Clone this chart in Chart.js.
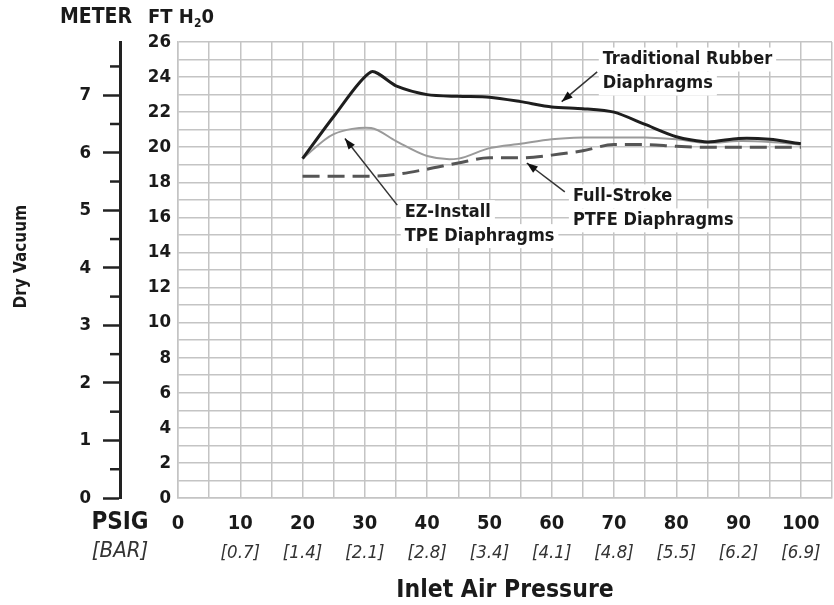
<!DOCTYPE html>
<html><head><meta charset="utf-8">
<script src="https://cdn.jsdelivr.net/npm/chart.js@4.4.1/dist/chart.umd.min.js"></script>
<style>html,body{margin:0;padding:0;background:#fff;}#wrap{width:834px;height:605px;}</style>
</head><body><div id="wrap"><canvas id="c" width="834" height="605"></canvas></div>
<script>
const FONT = "'Liberation Sans Narrow','DejaVu Sans Condensed','Arial Narrow',sans-serif";

// ---- data ----
const psig   = [20, 25, 31, 35, 40, 45, 50, 55, 60, 65, 70, 75, 80, 85, 90, 95, 100];
const rubber = [19.35, 21.75, 24.3, 23.5, 23.0, 22.9, 22.85, 22.6, 22.3, 22.2, 22.0, 21.3, 20.6, 20.3, 20.5, 20.45, 20.2];
const tpe    = [19.35, 20.75, 21.1, 20.35, 19.5, 19.35, 19.95, 20.2, 20.45, 20.55, 20.55, 20.55, 20.45, 20.25, 20.35, 20.3, 20.15];
const ptfe   = [18.35, 18.35, 18.35, 18.45, 18.75, 19.1, 19.4, 19.4, 19.55, 19.8, 20.15, 20.15, 20.05, 20.0, 20.0, 20.0, 20.0];
const psigTicks = [0, 10, 20, 30, 40, 50, 60, 70, 80, 90, 100];
const barTicks  = ['', '[0.7]', '[1.4]', '[2.1]', '[2.8]', '[3.4]', '[4.1]', '[4.8]', '[5.5]', '[6.2]', '[6.9]'];
const ftMax = 26;
const meterPerFt = 0.3048;
const rubberLabel = ['Traditional Rubber', 'Diaphragms'];
const tpeLabel    = ['EZ-Install', 'TPE Diaphragms'];
const ptfeLabel   = ['Full-Stroke', 'PTFE Diaphragms'];

// annotation placement (data coordinates)
const notes = [
  {lines: rubberLabel, x: 68.2, y: 25.0, from: [67.3, 24.3], to: [61.6, 22.6]},
  {lines: tpeLabel,    x: 36.4, y: 16.3, from: [35.2, 16.7], to: [26.8, 20.5]},
  {lines: ptfeLabel,   x: 63.4, y: 17.2, from: [62.1, 17.45], to: [56.0, 19.1]}
];

const GRID = '#c4c4c4';
const pts = arr => psig.map((x, i) => ({x: x, y: arr[i]}));

const decor = {
  id: 'decor',
  afterDraw(chart) {
    const ctx = chart.ctx;
    const ym = chart.scales.ym;
    ctx.save();
    ctx.strokeStyle = '#222';
    ctx.lineWidth = 2.5;
    for (let v = 0.5; v < ftMax * meterPerFt; v += 1) {
      const py = ym.getPixelForValue(v);
      ctx.beginPath();
      ctx.moveTo(ym.right - 10, py);
      ctx.lineTo(ym.right, py);
      ctx.stroke();
    }
    ctx.fillStyle = '#1a1a1a';
    ctx.textBaseline = 'middle';
    ctx.textAlign = 'center';
    ctx.font = 'bold 21px ' + FONT;
    ctx.fillText('METER', 96, 18);
    ctx.textAlign = 'left';
    let x0 = 148;
    ctx.font = 'bold 20px ' + FONT;
    ctx.fillText('FT H', x0, 18);
    let w = ctx.measureText('FT H').width;
    ctx.font = 'bold 12px ' + FONT;
    ctx.fillText('2', x0 + w, 24);
    let w2 = ctx.measureText('2').width;
    ctx.font = 'bold 20px ' + FONT;
    ctx.fillText('0', x0 + w + w2, 18);
    ctx.textAlign = 'center';
    ctx.font = 'bold 24px ' + FONT;
    ctx.fillText('PSIG', 120, 523);
    ctx.font = 'italic 22px ' + FONT;
    ctx.fillStyle = '#333';
    ctx.fillText('[BAR]', 120, 551);
    ctx.restore();
  },
  afterDatasetsDraw(chart) {
    const ctx = chart.ctx;
    const sx = chart.scales.x, sy = chart.scales.y;
    ctx.save();
    notes.forEach(n => {
      const px = sx.getPixelForValue(n.x), py = sy.getPixelForValue(n.y);
      ctx.font = 'bold 18px ' + FONT;
      ctx.textBaseline = 'middle';
      ctx.textAlign = 'left';
      n.lines.forEach((t, i) => {
        const tw = ctx.measureText(t).width;
        ctx.fillStyle = '#fff';
        ctx.fillRect(px - 4, py + i * 24 - 12, tw + 8, 24);
      });
      n.lines.forEach((t, i) => {
        ctx.fillStyle = '#1a1a1a';
        ctx.fillText(t, px, py + i * 24);
      });
      const ax = sx.getPixelForValue(n.from[0]), ay = sy.getPixelForValue(n.from[1]);
      const bx = sx.getPixelForValue(n.to[0]), by = sy.getPixelForValue(n.to[1]);
      ctx.strokeStyle = '#333';
      ctx.lineWidth = 1.5;
      ctx.beginPath(); ctx.moveTo(ax, ay); ctx.lineTo(bx, by); ctx.stroke();
      const ang = Math.atan2(by - ay, bx - ax);
      const L = 11, W = 4;
      ctx.fillStyle = '#111';
      ctx.beginPath();
      ctx.moveTo(bx, by);
      ctx.lineTo(bx - L * Math.cos(ang) + W * Math.sin(ang), by - L * Math.sin(ang) - W * Math.cos(ang));
      ctx.lineTo(bx - L * Math.cos(ang) - W * Math.sin(ang), by - L * Math.sin(ang) + W * Math.cos(ang));
      ctx.closePath(); ctx.fill();
    });
    ctx.restore();
  }
};

const zeroPad = s => { s.paddingLeft = 0; s.paddingRight = 0; s.paddingTop = 0; s.paddingBottom = 0; };

new Chart(document.getElementById('c'), {
  type: 'line',
  data: {
    datasets: [
      {label: 'Traditional Rubber Diaphragms', data: pts(rubber), borderColor: '#1e1e1e', borderWidth: 3, tension: 0.25, pointRadius: 0},
      {label: 'EZ-Install TPE Diaphragms', data: pts(tpe), borderColor: '#9a9a9a', borderWidth: 2, tension: 0.3, pointRadius: 0},
      {label: 'Full-Stroke PTFE Diaphragms', data: pts(ptfe), borderColor: '#555', borderWidth: 3, borderDash: [17, 8], cubicInterpolationMode: 'monotone', pointRadius: 0}
    ]
  },
  options: {
    responsive: false,
    animation: false,
    layout: {padding: {top: 42, right: 2, left: 0, bottom: 0}},
    plugins: {legend: {display: false}, tooltip: {enabled: false}},
    scales: {
      x: {
        type: 'linear', position: 'bottom', weight: 0, min: 0, max: 105,
        ticks: {stepSize: 5, autoSkip: false, maxRotation: 0, padding: 14, color: '#1a1a1a',
          font: {family: FONT, size: 20, weight: 'bold'},
          callback: v => psigTicks.includes(v) ? String(v) : ''},
        grid: {color: GRID, lineWidth: 1.5, drawTicks: false},
        border: {display: true, color: GRID, width: 1.5},
        afterFit: s => { s.height = 40; zeroPad(s); }
      },
      x2: {
        type: 'linear', position: 'bottom', weight: 1, min: 0, max: 105,
        ticks: {stepSize: 5, autoSkip: false, maxRotation: 0, padding: 4, color: '#333',
          font: {family: FONT, size: 18.5, style: 'italic'},
          callback: v => { const i = psigTicks.indexOf(v); return i >= 0 ? barTicks[i] : ''; }},
        grid: {display: false, drawTicks: false},
        border: {display: false},
        title: {display: true, text: 'Inlet Air Pressure', color: '#1a1a1a',
          font: {family: FONT, size: 24.5, weight: 'bold'}, padding: {top: 0, bottom: 0}},
        afterFit: s => { s.height = 67; zeroPad(s); }
      },
      y: {
        type: 'linear', position: 'left', weight: 0, min: 0, max: ftMax,
        ticks: {stepSize: 1, autoSkip: false, padding: 7, color: '#1a1a1a',
          font: {family: FONT, size: 18.5, weight: 'bold'},
          callback: v => v % 2 === 0 ? String(v) : ''},
        grid: {color: GRID, lineWidth: 1.5, drawTicks: false},
        border: {display: true, color: GRID, width: 1.5},
        afterFit: s => { s.width = 58; zeroPad(s); }
      },
      ym: {
        type: 'linear', position: 'left', weight: 1, min: 0, max: ftMax * meterPerFt,
        ticks: {stepSize: 0.5, autoSkip: false, includeBounds: false, padding: 12, color: '#1a1a1a',
          font: {family: FONT, size: 18.5, weight: 'bold'},
          callback: v => Number.isInteger(v) ? String(v) : ''},
        grid: {display: true, drawOnChartArea: false, drawTicks: true, tickLength: 17, tickWidth: 2.5,
          tickColor: c => (c.tick && Number.isInteger(c.tick.value)) ? '#222' : 'rgba(0,0,0,0)'},
        border: {display: true, color: '#222', width: 3},
        title: {display: true, text: '     Dry Vacuum', color: '#1a1a1a',
          font: {family: FONT, size: 17, weight: 'bold'}, padding: {top: 11, bottom: 0}},
        afterFit: s => { s.width = 120; zeroPad(s); }
      }
    }
  },
  plugins: [decor]
});
</script></body></html>
